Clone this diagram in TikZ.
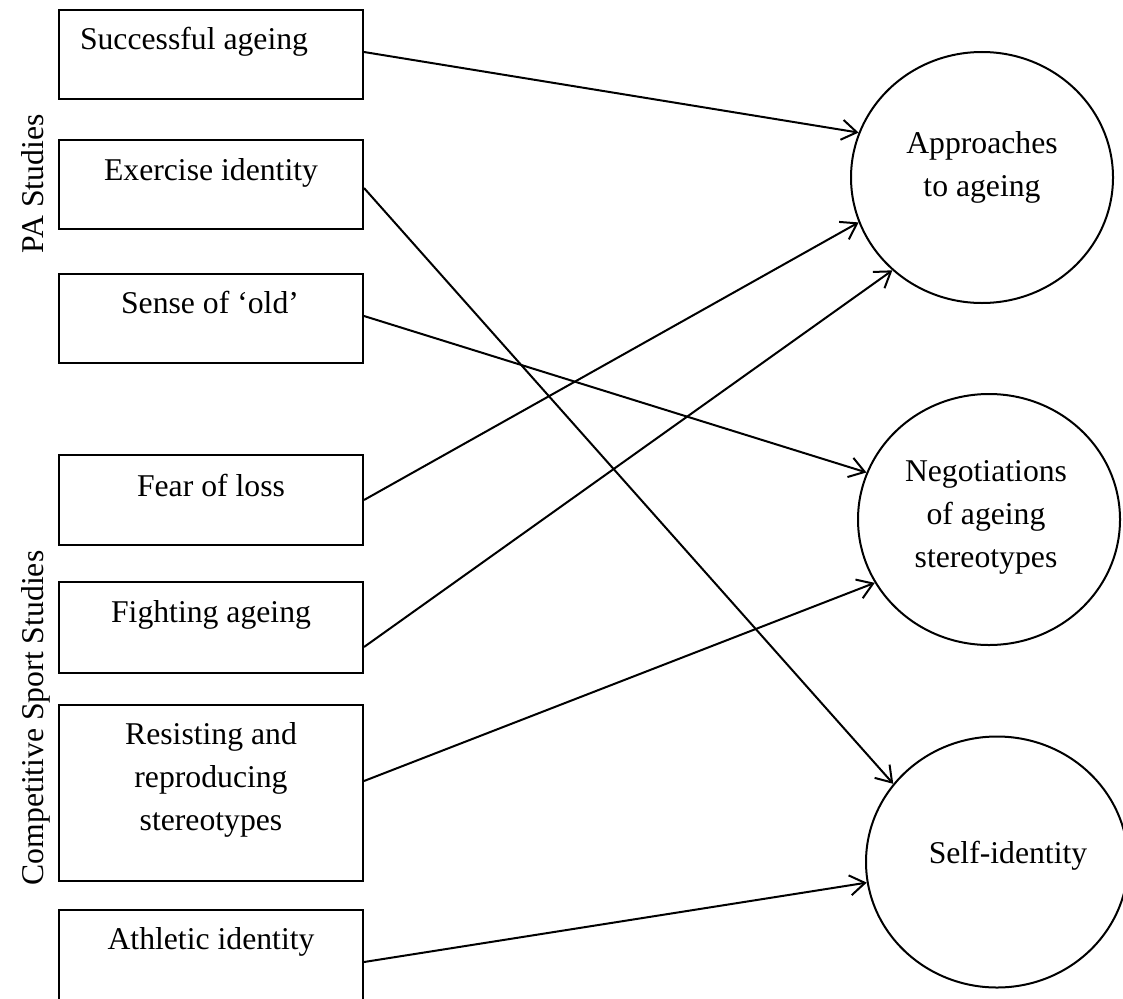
\documentclass[tikz,border=0pt]{standalone}
\usepackage{fontspec}
\setmainfont{Liberation Serif}
\usetikzlibrary{arrows.meta,shapes.geometric}
\begin{document}
\begin{tikzpicture}[x=1pt,y=-1pt,
  box/.style={draw, rectangle, line width=2pt, minimum width=304pt, inner sep=0pt},
  oval/.style={draw, ellipse, line width=2pt, minimum width=262pt, minimum height=251pt, inner sep=0pt},
  lbl/.style={font=\fontsize{31.7}{43}\selectfont, inner sep=0pt, align=center},
  arr/.style={line width=2pt, -{Straight Barb[length=15pt,width=20pt,line width=2pt]}}
]
\useasboundingbox (0,0) rectangle (1123,998);

% left boxes
\node[box, minimum height=89pt] (b1) at (211,54.5) {};
\node[box, minimum height=89pt] (b2) at (211,184.5) {};
\node[box, minimum height=89pt] (b3) at (211,318.5) {};
\node[box, minimum height=90pt] (b4) at (211,500) {};
\node[box, minimum height=91pt] (b5) at (211,627.5) {};
\node[box, minimum height=176pt] (b6) at (211,793) {};
\node[box, minimum height=100pt] (b7) at (211,960) {};

% box texts
\node[lbl, anchor=base] (t1) at (194,50) {Successful ageing};
\node[lbl, anchor=base] (t2) at (211,180) {Exercise identity};
\node[lbl, anchor=base] (t3) at (210,313) {Sense of ‘old’};
\node[lbl, anchor=base] (t4) at (211,496) {Fear of loss};
\node[lbl, anchor=base] (t5) at (211,622) {Fighting ageing};
\node[lbl] (t6) at (211,779.7) {Resisting and\\reproducing\\stereotypes};
\node[lbl, anchor=base] (t7) at (211,949) {Athletic identity};

% side labels
\node[lbl, rotate=90, anchor=base] (pa) at (43,184) {PA Studies};
\node[lbl, rotate=90, anchor=base] (cs) at (43,718) {Competitive Sport Studies};

% ellipses
\node[oval] (c1) at (982,177.5) {};
\node[oval] (c2) at (989,519.5) {};
\node[oval] (c3) at (997,862) {};

\node[lbl] (ta) at (982,167) {Approaches\\to ageing};
\node[lbl] (tn) at (986,517.5) {Negotiations\\of ageing\\stereotypes};
\node[lbl, anchor=base] (ts) at (1008,863) {Self-identity};

% connectors
\draw[arr] ([yshift=2.5pt]b1.east) -- (c1.160);
\draw[arr] ([yshift=-3.5pt]b2.east) -- (c3.143);
\draw[arr] ([yshift=2.5pt]b3.east) -- (c2.159);
\draw[arr] (b4.east) -- (c1.200);
\draw[arr] ([yshift=-19.5pt]b5.east) -- (c1.226);
\draw[arr] ([yshift=12pt]b6.east) -- (c2.209);
\draw[arr] ([yshift=-2pt]b7.east) -- (c3.189);
\end{tikzpicture}
\end{document}
